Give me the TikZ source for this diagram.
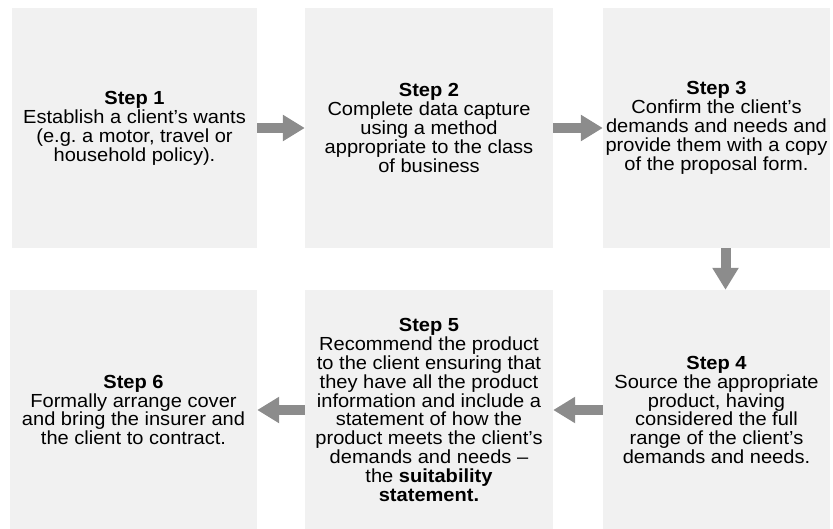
\documentclass[tikz,border=0pt]{standalone}
\usepackage{fontspec}
\setmainfont{Liberation Sans}[FakeStretch=1.06]
\usetikzlibrary{arrows.meta}
\definecolor{boxgray}{HTML}{F1F1F1}
\definecolor{arrowgray}{HTML}{8C8C8C}
\frenchspacing

\begin{document}
\begin{tikzpicture}[x=1bp,y=-1bp,
    stepbox/.style={fill=boxgray, draw=none, minimum width=#1, minimum height=240bp,
      inner sep=0pt, align=center, font=\fontsize{19}{19}\selectfont},
    stepbox/.default=248bp,
    flow/.style={draw=arrowgray, line width=10bp, -{Triangle[width=25bp,length=22bp]}}]
  \useasboundingbox (0,0) rectangle (833,529);

  % first row
  \node[stepbox=245bp] (s1) at (134.5,128) {\textbf{Step 1}\\Establish a client’s wants\\(e.g. a motor, travel or\\household policy).};
  \node[stepbox] (s2) at (429,128) {\textbf{Step 2}\\Complete data capture\\using a method\\appropriate to the class\\of business};
  \node[stepbox=227bp] (s3) at (716.5,128) {\textbf{Step 3}\\Confirm the client’s\\demands and needs and\\provide them with a copy\\of the proposal form.};

  % second row
  \node[stepbox=227bp] (s4) at (716.5,410) {\textbf{Step 4}\\Source the appropriate\\product, having\\considered the full\\range of the client’s\\demands and needs.};
  \node[stepbox] (s5) at (429,410) {\textbf{Step 5}\\Recommend the product\\to the client ensuring that\\they have all the product\\information and include a\\statement of how the\\product meets the client’s\\demands and needs --\\the \textbf{suitability}\\\textbf{statement.}};
  \node[stepbox=247bp] (s6) at (133.5,410) {\textbf{Step 6}\\Formally arrange cover\\and bring the insurer and\\the client to contract.};

  % arrows
  \draw[flow] (s1) -- (s2);
  \draw[flow] (s2) -- (s3);
  \draw[flow] ([xshift=9bp]s3.south) -- ([xshift=9bp]s4.north);
  \draw[flow] (s4) -- (s5);
  \draw[flow] (s5) -- (s6);
\end{tikzpicture}
\end{document}
